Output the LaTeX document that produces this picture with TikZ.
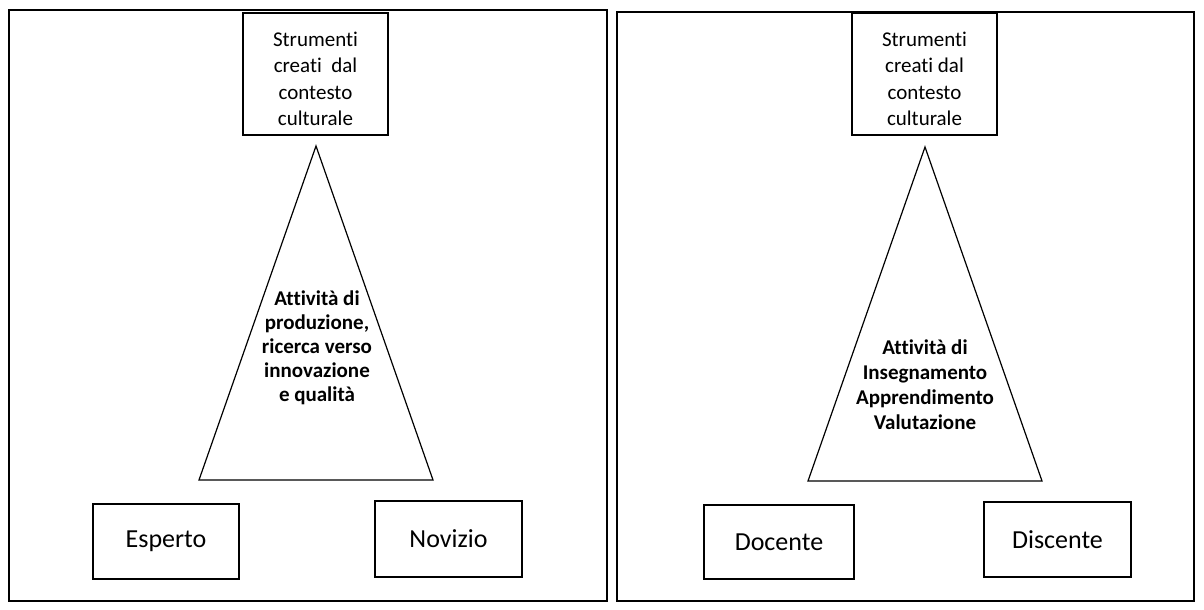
\documentclass[tikz,border=0pt]{standalone}
\usepackage{fontspec}
\setmainfont{Carlito}[Ligatures={NoCommon}]
\begin{document}
\begin{tikzpicture}[x=1pt,y=-1pt,
  frame/.style={draw,line width=1.6pt},
  box/.style={draw,line width=1.5pt,inner sep=0pt},
  tri/.style={draw,line width=1.2pt,line join=miter},
  toolstext/.style={align=center,font=\fontsize{21}{26.5}\selectfont,inner sep=0pt},
  roletext/.style={font=\fontsize{26}{31}\selectfont,inner sep=0pt},
  actLtext/.style={align=center,font=\bfseries\fontsize{21}{24}\selectfont,inner sep=0pt},
  actRtext/.style={align=center,font=\bfseries\fontsize{21}{25}\selectfont,inner sep=0pt}]
\useasboundingbox (0,0) rectangle (1204,610);

% ---------- left panel: productive activity ----------
\draw[frame] (9,10) rectangle (607,601);
\node[box,minimum width=145pt,minimum height=122pt] (toolsL) at (315.5,74) {};
\node[toolstext] (toolsLt) at (315.5,79) {Strumenti\\creati\ \ dal\\contesto\\culturale};
\coordinate (apexL) at (316,146);
\coordinate (blL) at (199,480);
\coordinate (brL) at (433,480);
\draw[tri] (apexL) -- (brL) -- (blL) -- cycle;
\node[actLtext] (actL) at (317,348) {Attività di\\produzione,\\ricerca verso\\ innovazione\\e qualità};
\node[box,minimum width=146pt,minimum height=75pt] (esperto) at (166,541.5) {};
\node[roletext] at (esperto.center) {Esperto};
\node[box,minimum width=147pt,minimum height=76pt] (novizio) at (448.5,539) {};
\node[roletext] at (novizio.center) {Novizio};

% ---------- right panel: school activity ----------
\draw[frame] (617,12) rectangle (1194,601);
\node[box,minimum width=145pt,minimum height=122pt] (toolsR) at (924.5,74) {};
\node[toolstext] (toolsRt) at (924.5,79) {Strumenti\\creati dal\\contesto\\culturale};
\coordinate (apexR) at (925,147);
\coordinate (blR) at (808,481);
\coordinate (brR) at (1042,481);
\draw[tri] (apexR) -- (brR) -- (blR) -- cycle;
\node[actRtext] (actR) at (925,385) {Attività di\\Insegnamento\\Apprendimento\\Valutazione};
\node[box,minimum width=150pt,minimum height=74pt] (docente) at (779,542) {};
\node[roletext] at (docente.center) {Docente};
\node[box,minimum width=147pt,minimum height=75pt] (discente) at (1057.5,539.5) {};
\node[roletext] at (discente.center) {Discente};
\end{tikzpicture}
\end{document}
